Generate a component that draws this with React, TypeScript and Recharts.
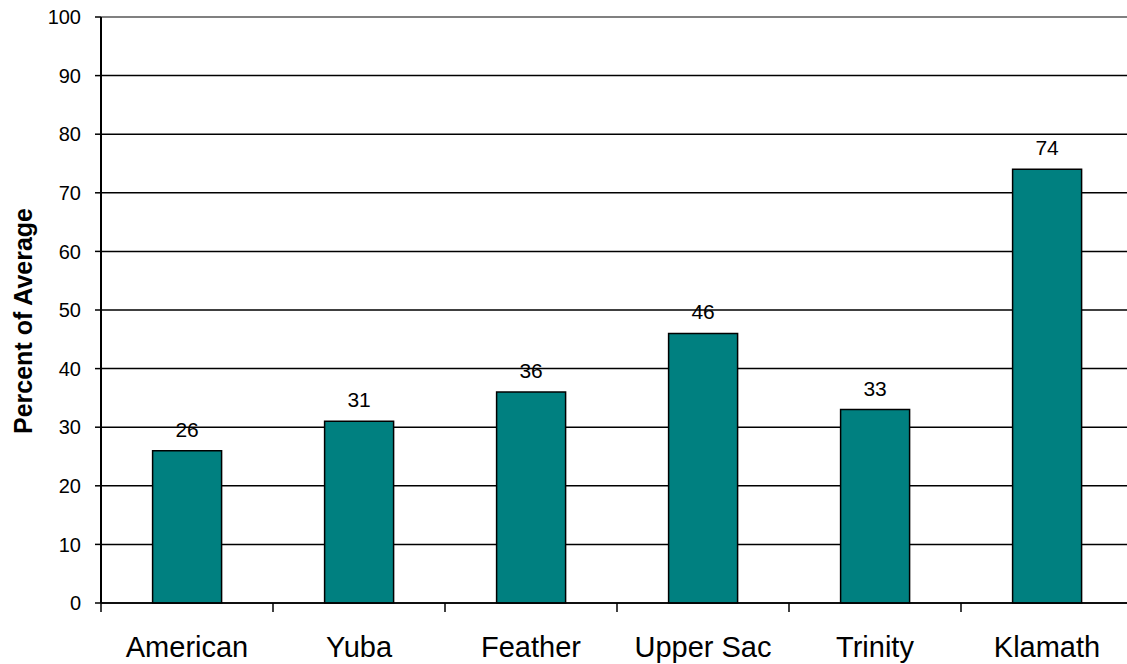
import React from 'react';
import {
  BarChart,
  Bar,
  XAxis,
  YAxis,
  CartesianGrid,
  LabelList,
  ReferenceLine,
} from 'recharts';

const basins = ['American', 'Yuba', 'Feather', 'Upper Sac', 'Trinity', 'Klamath'];
const percentOfAverage = [26, 31, 36, 46, 33, 74];
const yTicks = [0, 10, 20, 30, 40, 50, 60, 70, 80, 90, 100];

const data = basins.map((name, i) => ({ name, value: percentOfAverage[i] }));

const FONT = 'Arial, "Liberation Sans", sans-serif';

// category axis tick: boundary tick line plus centred label
const BasinTick = (props: any) => {
  const { x, y, payload } = props;
  const half = payload?.offset ?? 0;
  const left = x - half;
  return (
    <g>
      <line x1={left} y1={603} x2={left} y2={612} stroke="#000" strokeWidth={1.5} />
      <text
        x={x}
        y={657}
        textAnchor="middle"
        fill="#000"
        fontSize={29}
        fontFamily={FONT}
      >
        {payload.value}
      </text>
    </g>
  );
};

const AxisTitle = () => (
  <text
    x={32}
    y={321}
    transform="rotate(-90, 32, 321)"
    textAnchor="middle"
    fill="#000"
    fontSize={25}
    fontWeight="bold"
    fontFamily={FONT}
  >
    Percent of Average
  </text>
);

export default function App() {
  return (
    <div
      style={{
        position: 'absolute',
        left: 0,
        top: 0,
        width: 1127,
        height: 664,
        overflow: 'hidden',
        background: '#fff',
      }}
    >
      <BarChart
        width={1140}
        height={664}
        data={data}
        margin={{ top: 17, right: 7, left: 0, bottom: 0 }}
        barCategoryGap="30%"
      >
        <CartesianGrid horizontal vertical={false} stroke="#000" strokeWidth={1.5} />
        <ReferenceLine y={100} stroke="#808080" strokeWidth={2} />
        <XAxis
          dataKey="name"
          height={61}
          tickLine={false}
          axisLine={{ stroke: '#000', strokeWidth: 1.5 }}
          tick={<BasinTick />}
          interval={0}
        />
        <YAxis
          width={101}
          domain={[0, 100]}
          ticks={yTicks}
          interval={0}
          tickSize={6}
          tickMargin={14}
          tickLine={{ stroke: '#000', strokeWidth: 1.5 }}
          axisLine={{ stroke: '#000', strokeWidth: 2 }}
          tick={{ fill: '#000', fontSize: 20, fontFamily: FONT }}
          label={<AxisTitle />}
        />
        <Bar
          dataKey="value"
          fill="#008080"
          stroke="#000"
          strokeWidth={1.5}
          isAnimationActive={false}
        >
          <LabelList
            dataKey="value"
            position="top"
            offset={14}
            fill="#000"
            fontSize={21}
            fontFamily={FONT}
          />
        </Bar>
      </BarChart>
    </div>
  );
}
